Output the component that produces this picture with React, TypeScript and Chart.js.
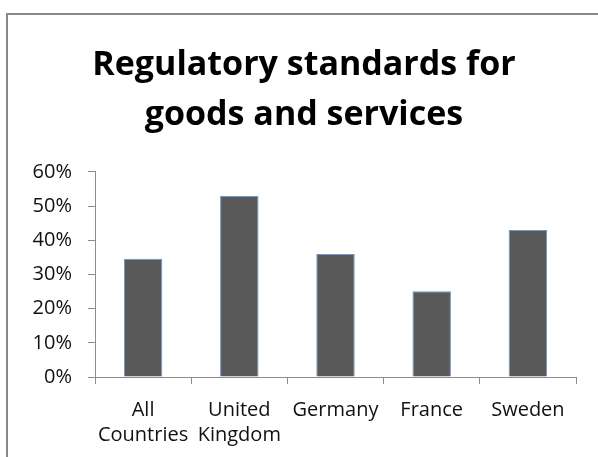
import React, { useEffect, useRef } from "react";
import { Chart, registerables } from "chart.js";

Chart.register(...registerables);

const titleLines = ["Regulatory standards for", "goods and services"];
const categories: (string | string[])[] = [["All", "Countries"], ["United", "Kingdom"], "Germany", "France", "Sweden"];
const values = [34.6, 53, 36, 25.1, 43];
const yTicks = [0, 10, 20, 30, 40, 50, 60];

const FONT = "'Open Sans', Lato, sans-serif";

const framePlugin = {
  id: "frame",
  beforeDraw(chart: any) {
    const ctx = chart.ctx;
    ctx.save();
    ctx.fillStyle = "#ffffff";
    ctx.fillRect(0, 0, chart.width, chart.height);
    ctx.strokeStyle = "#878787";
    ctx.lineWidth = 2;
    ctx.strokeRect(7, 14, chart.width + 20, chart.height + 20);
    ctx.restore();
  },
};

export default function App() {
  const ref = useRef<HTMLCanvasElement | null>(null);
  useEffect(() => {
    document.body.style.margin = "0";
    const chart = new Chart(ref.current!, {
      type: "bar",
      data: {
        labels: categories,
        datasets: [
          {
            data: values,
            backgroundColor: "#595959",
            borderColor: "#6a97cf",
            borderWidth: 1,
            barPercentage: 0.4,
            categoryPercentage: 1,
          },
        ],
      },
      options: {
        responsive: false,
        animation: false,
        layout: { padding: { left: 32, right: 22, top: 0, bottom: 0 } },
        plugins: {
          legend: { display: false },
          tooltip: { enabled: false },
          title: {
            display: true,
            text: titleLines,
            color: "#000000",
            font: { family: FONT, size: 34, weight: "bold", lineHeight: 1.47 },
            padding: { top: 40, bottom: 32 },
          },
        },
        scales: {
          x: {
            grid: { display: true, drawOnChartArea: false, offset: true, tickLength: 7, color: "#8c8c8c" },
            border: { color: "#8c8c8c" },
            ticks: { color: "#111111", font: { family: FONT, size: 20, lineHeight: 1.25 }, padding: 14, maxRotation: 0, autoSkip: false },
            afterFit(scale: any) { scale.height = 80; },
          },
          y: {
            min: 0,
            max: 60,
            afterBuildTicks(scale: any) { scale.ticks = yTicks.map((v) => ({ value: v })); },
            grid: { display: true, drawOnChartArea: false, tickLength: 7, color: "#8c8c8c" },
            border: { color: "#8c8c8c" },
            ticks: { color: "#111111", font: { family: FONT, size: 20 }, padding: 16, callback: (v: any) => v + "%" },
            afterFit(scale: any) { scale.width = 63; },
          },
        },
      },
      plugins: [framePlugin],
    } as any);
    return () => chart.destroy();
  }, []);
  return (
    <div style={{ position: "absolute", left: 0, top: 0, width: 598, height: 457 }}>
      <canvas ref={ref} width={598} height={457} style={{ display: "block" }} />
    </div>
  );
}
